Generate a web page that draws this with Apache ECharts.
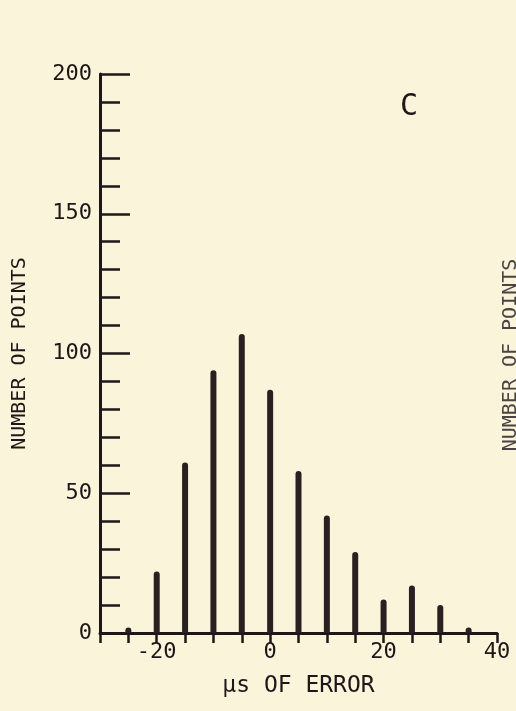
<!DOCTYPE html>
<html>
<head>
<meta charset="utf-8">
<script src="https://cdn.jsdelivr.net/npm/echarts@6/dist/echarts.min.js"></script>
<style>
  html, body { margin: 0; padding: 0; background: #faf5da; }
  #chart { width: 516px; height: 711px; }
</style>
</head>
<body>
<div id="chart"></div>
<script>
// error bins (µs) and counts
const errorBins = [-25, -20, -15, -10, -5, 0, 5, 10, 15, 20, 25, 30, 35];
const pointCounts = [2, 22, 61, 94, 107, 87, 58, 42, 29, 12, 17, 10, 2];
const xLabels = [-20, 0, 20, 40];
const yLabels = [0, 50, 100, 150, 200];

const ink = '#1e1719';
const font = 'DejaVu Sans Mono';

const chart = echarts.init(document.getElementById('chart'));

const option = {
  backgroundColor: '#faf5da',
  animation: false,
  grid: {
    left: 100,
    right: 19,
    top: 74,
    bottom: 78
  },
  xAxis: {
    type: 'value',
    min: -30,
    max: 40,
    interval: 5,
    name: 'μs OF ERROR',
    nameLocation: 'middle',
    nameGap: 42,
    nameTextStyle: { color: ink, fontFamily: font, fontSize: 23 },
    axisLine: { onZero: false, lineStyle: { color: ink, width: 3 } },
    axisTick: { show: true, length: 10, lineStyle: { color: ink, width: 2.5 } },
    axisLabel: {
      color: ink,
      fontFamily: font,
      fontSize: 22,
      margin: 8,
      formatter: v => (xLabels.includes(v) ? String(v) : '')
    },
    splitLine: { show: false }
  },
  yAxis: {
    type: 'value',
    min: 0,
    max: 200,
    interval: 50,
    name: 'NUMBER OF POINTS',
    nameLocation: 'middle',
    nameGap: 70,
    nameTextStyle: { color: ink, fontFamily: font, fontSize: 20 },
    axisLine: { show: true, onZero: false, lineStyle: { color: ink, width: 3 } },
    axisTick: { show: true, inside: true, length: 30, lineStyle: { color: ink, width: 2.5 } },
    minorTick: { show: true, splitNumber: 5, length: 20, lineStyle: { color: ink, width: 2.5 } },
    axisLabel: {
      color: ink,
      fontFamily: font,
      fontSize: 22,
      margin: 8,
      formatter: v => (yLabels.includes(v) ? String(v) : '')
    },
    splitLine: { show: false },
    minorSplitLine: { show: false }
  },
  series: [{
    type: 'bar',
    data: errorBins.map((b, i) => [b, pointCounts[i]]),
    barWidth: 6,
    itemStyle: {
      color: '#2a2022',
      borderRadius: [3, 3, 0, 0]
    }
  }],
  graphic: [
    {
      type: 'text',
      left: 400,
      top: 92,
      style: { text: 'C', fontFamily: font, fontSize: 30, fill: ink }
    },
    {
      type: 'text',
      x: 521,
      y: 355,
      rotation: Math.PI / 2,
      style: {
        text: 'NUMBER OF POINTS',
        fontFamily: font,
        fontSize: 20,
        fill: '#4a4444',
        align: 'center',
        verticalAlign: 'bottom'
      }
    }
  ]
};

chart.setOption(option);
</script>
</body>
</html>
